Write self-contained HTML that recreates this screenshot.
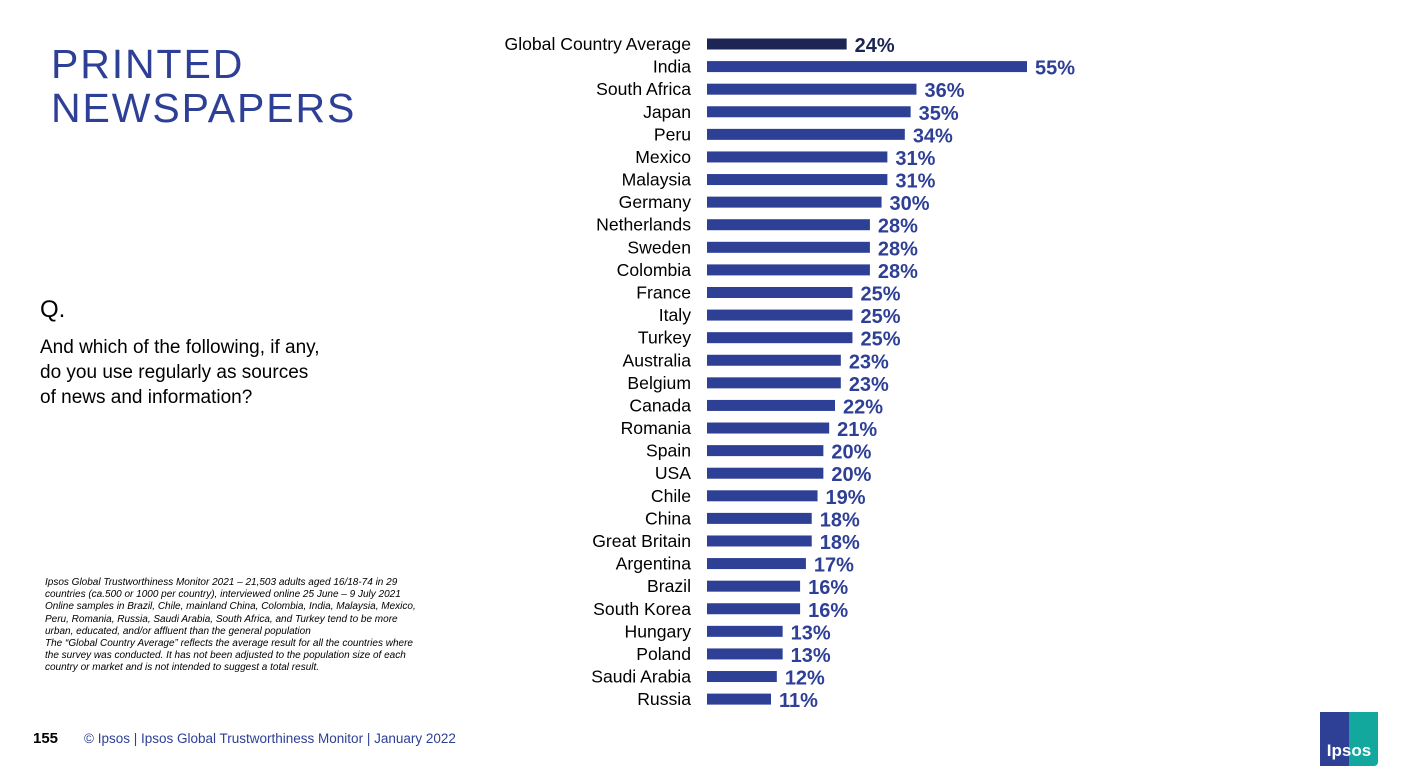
<!DOCTYPE html>
<html><head><meta charset="utf-8"><style>
body{margin:0;width:1406px;height:778px;background:#fff;position:relative;overflow:hidden;font-family:"Liberation Sans",sans-serif}
.abs{position:absolute}
</style></head><body>
<div class="abs" style="left:51px;top:42px;font-size:41px;line-height:44px;color:#2e3f96;letter-spacing:1.9px">PRINTED<br>NEWSPAPERS</div>
<div class="abs" style="left:40px;top:296px;font-size:24px;color:#000">Q.</div>
<div class="abs" style="left:40px;top:335px;font-size:19px;line-height:25px;color:#000">And which of the following, if any,<br>do you use regularly as sources<br>of news and information?</div>
<div class="abs" style="left:45px;top:577px;width:372px;font-size:10px;line-height:12.2px;font-style:italic;color:#000">Ipsos Global Trustworthiness Monitor 2021 – 21,503 adults aged 16/18-74 in 29 countries (ca.500 or 1000 per country), interviewed online 25 June – 9 July 2021<br>Online samples in Brazil, Chile, mainland China, Colombia, India, Malaysia, Mexico, Peru, Romania, Russia, Saudi Arabia, South Africa, and Turkey tend to be more urban, educated, and/or affluent than the general population<br>The “Global Country Average” reflects the average result for all the countries where the survey was conducted. It has not been adjusted to the population size of each country or market and is not intended to suggest a total result.</div>
<div class="abs" style="left:33px;top:730px;font-size:15px;font-weight:bold;color:#000">155</div>
<div class="abs" style="left:84px;top:731px;font-size:13.5px;color:#2e3f96">© Ipsos | Ipsos Global Trustworthiness Monitor | January 2022</div>
<div class="abs" style="left:1320px;top:712px;width:58px;height:54px;background:linear-gradient(90deg,#2e3f96 0 50%,#13a89e 50% 100%);border-radius:0 0 4px 0;color:#fff;font-weight:bold;font-size:17px;text-align:center;line-height:78px;overflow:hidden">Ipsos</div>
<svg id="chart" class="abs" style="left:0;top:0" width="1406" height="778"></svg>
<script>
const categories=["Global Country Average","India","South Africa","Japan","Peru","Mexico","Malaysia","Germany","Netherlands","Sweden","Colombia","France","Italy","Turkey","Australia","Belgium","Canada","Romania","Spain","USA","Chile","China","Great Britain","Argentina","Brazil","South Korea","Hungary","Poland","Saudi Arabia","Russia"];
const values=[24,55,36,35,34,31,31,30,28,28,28,25,25,25,23,23,22,21,20,20,19,18,18,17,16,16,13,13,12,11];
const valueLabels=values.map(v=>v+"%");
const svg=document.getElementById('chart');
const NS="http://www.w3.org/2000/svg";
const x0=707, pxPer=320/55;
const xScale=v=>x0+v*pxPer;
const yScale=i=>44+i*22.59;
categories.forEach((c,i)=>{
  const y=yScale(i);
  const t=document.createElementNS(NS,'text');
  
  
  t.setAttribute('x',691);t.setAttribute('y',y+6);t.setAttribute('text-anchor','end');
  t.setAttribute('font-size','17.6');t.setAttribute('fill','#000');t.textContent=c;svg.appendChild(t);
  const r=document.createElementNS(NS,'rect');
  
  
  r.setAttribute('x',x0);r.setAttribute('y',y-5.5);r.setAttribute('width',xScale(values[i])-x0);r.setAttribute('height',11);
  r.setAttribute('fill',i===0?'#1c2554':'#2e3f96');svg.appendChild(r);
  const v=document.createElementNS(NS,'text');
  
  
  v.setAttribute('x',xScale(values[i])+8);v.setAttribute('y',y+8);
  v.setAttribute('font-size','20');v.setAttribute('font-weight','bold');v.setAttribute('fill',i===0?'#1c2554':'#2e3f96');
  v.textContent=valueLabels[i];svg.appendChild(v);
});
</script>
</body></html>
